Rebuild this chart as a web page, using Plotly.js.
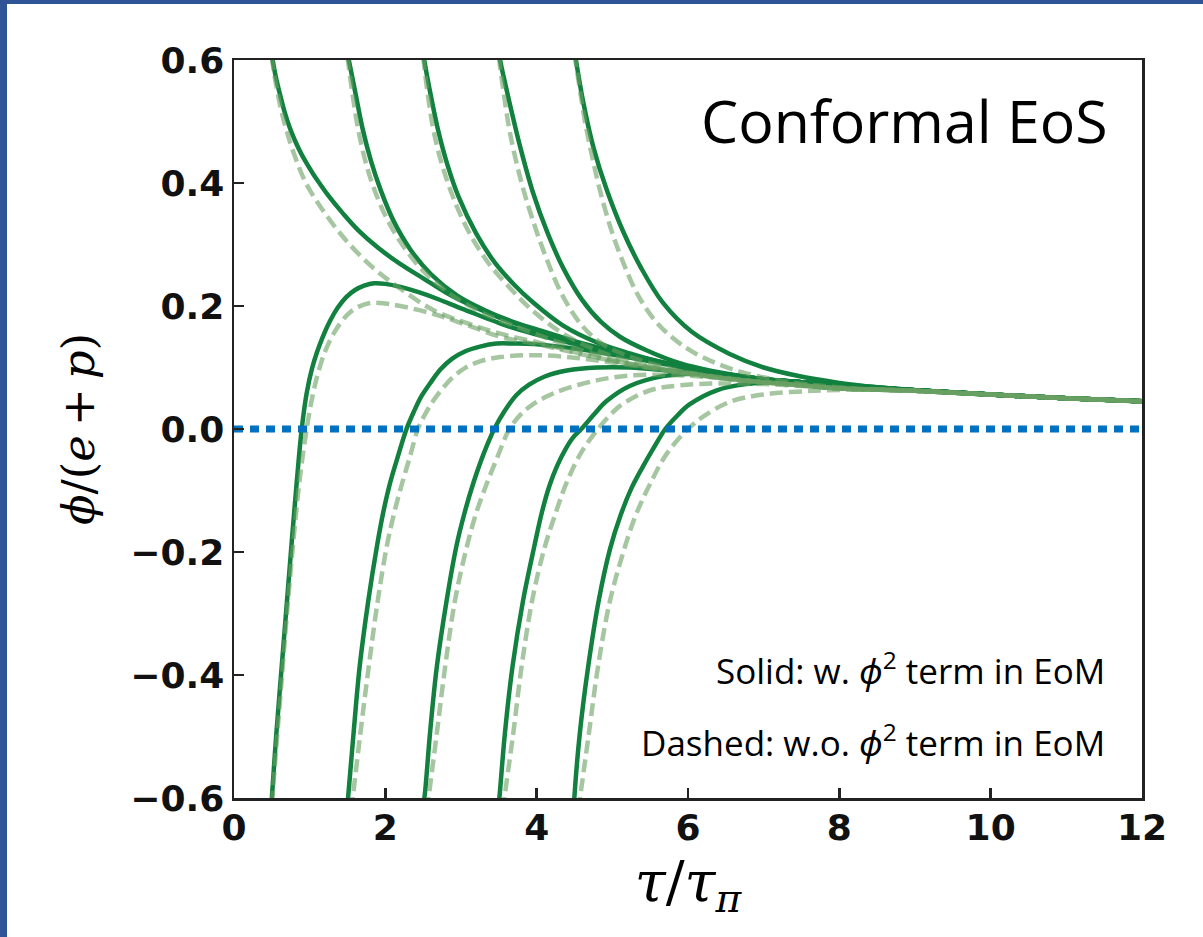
<!DOCTYPE html>
<html>
<head>
<meta charset="utf-8">
<script src="https://cdn.plot.ly/plotly-3.0.1.min.js"></script>
<style>
  html, body { margin: 0; padding: 0; background: #2f5597; width: 1203px; height: 937px; overflow: hidden; }
  #chart { position: absolute; left: 7px; top: 4px; width: 1196px; height: 933px; background: #ffffff; }
</style>
</head>
<body>
<div id="chart"></div>
<script>
// ---------- tick labels ----------
const xTickVals = [0, 2, 4, 6, 8, 10, 12];
const xTickText = ['0', '2', '4', '6', '8', '10', '12'];
const yTickVals = [-0.6, -0.4, -0.2, 0.0, 0.2, 0.4, 0.6];
const yTickText = ['\u22120.6', '\u22120.4', '\u22120.2', '0.0', '0.2', '0.4', '0.6'];

// ---------- common late-time tails ----------
const solidTailTau = [8, 9, 10, 11, 12];
const solidTailPhi = [0.071, 0.063, 0.056, 0.050, 0.045];
const dashTailTau = [9, 10, 11, 12];
const dashTailPhi = [0.062, 0.056, 0.050, 0.045];

// ---------- solid curves (with phi^2 term), positive start ----------
const tauS1 = [0.50, 0.55, 0.61, 0.67, 0.74, 0.82, 0.90, 0.98, 1.06, 1.15, 1.25, 1.45, 1.65, 1.90, 2.20, 2.50, 2.80, 3.10, 3.45, 3.80, 4.15, 4.50, 5.00, 5.50, 6.00, 6.50, 7.00, 7.50];
const phiS1 = [0.608, 0.574, 0.543, 0.515, 0.489, 0.465, 0.445, 0.428, 0.412, 0.396, 0.379, 0.349, 0.322, 0.295, 0.268, 0.245, 0.222, 0.203, 0.184, 0.168, 0.153, 0.140, 0.125, 0.112, 0.099, 0.089, 0.081, 0.076];
const tauS2 = [1.50, 1.55, 1.61, 1.70, 1.81, 1.94, 2.11, 2.33, 2.60, 2.95, 3.30, 3.65, 4.00, 4.50, 5.00, 5.50, 6.00, 6.50, 7.00, 7.50];
const phiS2 = [0.61, 0.58, 0.543, 0.488, 0.436, 0.388, 0.338, 0.292, 0.252, 0.217, 0.194, 0.176, 0.162, 0.143, 0.127, 0.113, 0.100, 0.089, 0.081, 0.076];
const tauS3 = [2.50, 2.55, 2.60, 2.69, 2.82, 2.97, 3.20, 3.45, 3.70, 3.95, 4.35, 4.79, 5.23, 5.67, 6.11, 6.55, 7.00, 7.50];
const phiS3 = [0.61, 0.575, 0.543, 0.49, 0.43, 0.377, 0.318, 0.27, 0.235, 0.206, 0.168, 0.141, 0.123, 0.108, 0.097, 0.088, 0.081, 0.076];
const tauS4 = [3.50, 3.55, 3.65, 3.79, 3.95, 4.14, 4.35, 4.60, 4.85, 5.10, 5.45, 5.89, 6.33, 7.00, 7.50];
const phiS4 = [0.61, 0.58, 0.526, 0.455, 0.385, 0.32, 0.262, 0.21, 0.174, 0.150, 0.128, 0.107, 0.094, 0.081, 0.076];
const tauS5 = [4.50, 4.61, 4.75, 4.92, 5.14, 5.38, 5.67, 6.05, 6.55, 7.00, 7.43, 8.00, 8.50];
const phiS5 = [0.615, 0.535, 0.458, 0.391, 0.322, 0.262, 0.205, 0.158, 0.122, 0.100, 0.087, 0.075, 0.068];

// ---------- solid curves, negative start ----------
const tauL1 = [0.49, 0.50, 0.56, 0.63, 0.70, 0.765, 0.83, 0.895, 0.96, 1.03, 1.10, 1.18, 1.27, 1.37, 1.48, 1.60, 1.72, 1.85, 2.00, 2.20, 2.45, 2.70, 3.00, 3.30, 3.60, 3.95, 4.50, 5.00, 5.50, 6.00, 6.50, 7.00, 7.50];
const phiL1 = [-0.62, -0.60, -0.495, -0.387, -0.28, -0.18, -0.085, 0.0, 0.058, 0.098, 0.126, 0.152, 0.176, 0.197, 0.214, 0.226, 0.233, 0.237, 0.236, 0.231, 0.222, 0.211, 0.196, 0.182, 0.168, 0.155, 0.138, 0.124, 0.112, 0.099, 0.089, 0.081, 0.076];
const tauL2 = [1.49, 1.51, 1.58, 1.66, 1.775, 1.89, 1.97, 2.06, 2.17, 2.28, 2.38, 2.47, 2.59, 2.73, 2.88, 3.05, 3.25, 3.47, 3.70, 3.96, 4.50, 5.00, 5.50, 6.00, 6.50, 7.00, 7.50];
const phiL2 = [-0.62, -0.596, -0.495, -0.387, -0.279, -0.19, -0.137, -0.089, -0.043, 0.0, 0.029, 0.052, 0.074, 0.097, 0.114, 0.126, 0.134, 0.139, 0.139, 0.138, 0.131, 0.121, 0.110, 0.098, 0.088, 0.080, 0.076];
const tauL3 = [2.49, 2.52, 2.59, 2.68, 2.81, 2.94, 3.05, 3.16, 3.30, 3.44, 3.58, 3.73, 3.90, 4.10, 4.40, 4.80, 5.23, 5.67, 6.10, 6.50, 7.00, 7.50];
const phiL3 = [-0.62, -0.596, -0.495, -0.387, -0.279, -0.19, -0.135, -0.089, -0.040, 0.0, 0.03, 0.055, 0.072, 0.085, 0.095, 0.100, 0.100, 0.096, 0.091, 0.086, 0.080, 0.076];
const tauL4 = [3.49, 3.51, 3.58, 3.68, 3.82, 3.97, 4.07, 4.17, 4.27, 4.38, 4.48, 4.59, 4.76, 4.92, 5.23, 5.67, 6.10, 6.50, 7.00, 7.50];
const phiL4 = [-0.62, -0.596, -0.495, -0.387, -0.279, -0.19, -0.135, -0.092, -0.06, -0.033, -0.014, 0.0, 0.024, 0.045, 0.070, 0.086, 0.090, 0.087, 0.081, 0.076];
const tauL5 = [4.49, 4.50, 4.57, 4.68, 4.82, 4.97, 5.11, 5.25, 5.40, 5.55, 5.70, 5.86, 6.02, 6.38, 6.77, 7.21, 7.60, 8.00, 8.50];
const phiL5 = [-0.62, -0.596, -0.495, -0.387, -0.279, -0.195, -0.14, -0.097, -0.062, -0.030, 0.0, 0.022, 0.040, 0.063, 0.073, 0.076, 0.075, 0.072, 0.068];

// ---------- dashed curves (without phi^2 term), positive start ----------
const tauDS1 = [0.50, 0.53, 0.57, 0.63, 0.70, 0.80, 0.95, 1.19, 1.50, 1.85, 2.20, 2.64, 3.08, 3.52, 4.04, 4.50, 5.00, 5.50, 6.00, 6.50, 7.00, 7.50, 8.00, 8.50];
const phiDS1 = [0.605, 0.578, 0.551, 0.515, 0.483, 0.445, 0.400, 0.353, 0.304, 0.261, 0.228, 0.193, 0.172, 0.155, 0.140, 0.125, 0.111, 0.100, 0.090, 0.082, 0.076, 0.071, 0.066, 0.064];
const tauDS2 = [1.50, 1.56, 1.64, 1.74, 1.85, 2.00, 2.20, 2.47, 2.82, 3.26, 3.74, 4.20, 4.60, 5.00, 5.50, 6.00, 6.50, 7.00, 7.50, 8.00, 8.50];
const phiDS2 = [0.605, 0.55, 0.488, 0.434, 0.391, 0.347, 0.304, 0.261, 0.223, 0.190, 0.166, 0.145, 0.128, 0.113, 0.100, 0.090, 0.082, 0.076, 0.071, 0.066, 0.064];
const tauDS3 = [2.50, 2.56, 2.63, 2.73, 2.88, 3.08, 3.35, 3.65, 3.96, 4.35, 4.79, 5.23, 5.67, 6.10, 6.50, 7.00, 7.50, 8.00, 8.50];
const phiDS3 = [0.605, 0.545, 0.49, 0.438, 0.382, 0.326, 0.272, 0.229, 0.191, 0.155, 0.128, 0.110, 0.098, 0.090, 0.083, 0.076, 0.071, 0.066, 0.064];
const tauDS4 = [3.50, 3.56, 3.65, 3.79, 3.94, 4.13, 4.35, 4.60, 4.85, 5.14, 5.67, 6.33, 7.00, 7.50, 8.00, 8.50];
const phiDS4 = [0.605, 0.55, 0.48, 0.405, 0.343, 0.277, 0.215, 0.168, 0.140, 0.122, 0.101, 0.085, 0.076, 0.071, 0.066, 0.064];
const tauDS5 = [4.50, 4.53, 4.57, 4.64, 4.73, 4.83, 4.97, 5.12, 5.32, 5.54, 5.80, 6.11, 6.64, 7.21, 7.70, 8.20, 8.60];
const phiDS5 = [0.61, 0.585, 0.553, 0.499, 0.445, 0.391, 0.33, 0.278, 0.222, 0.180, 0.148, 0.122, 0.095, 0.079, 0.071, 0.066, 0.064];

// ---------- dashed curves, negative start ----------
const tauDL1 = [0.50, 0.57, 0.64, 0.71, 0.79, 0.87, 0.96, 1.04, 1.12, 1.21, 1.33, 1.50, 1.65, 1.81, 2.00, 2.20, 2.64, 3.08, 3.52, 4.04, 4.50, 5.00, 5.50, 6.00, 6.50, 7.00, 7.50, 8.00, 8.50];
const phiDL1 = [-0.61, -0.50, -0.392, -0.285, -0.175, -0.08, 0.0, 0.055, 0.095, 0.128, 0.158, 0.186, 0.199, 0.205, 0.204, 0.200, 0.187, 0.169, 0.150, 0.137, 0.124, 0.111, 0.100, 0.090, 0.082, 0.076, 0.071, 0.066, 0.064];
const tauDL2 = [1.55, 1.67, 1.78, 1.90, 2.02, 2.12, 2.22, 2.33, 2.43, 2.53, 2.64, 2.77, 2.90, 3.05, 3.25, 3.52, 4.00, 4.50, 5.00, 5.50, 6.00, 6.50, 7.00, 7.50, 8.00, 8.50];
const phiDL2 = [-0.62, -0.495, -0.387, -0.279, -0.19, -0.135, -0.089, -0.043, 0.0, 0.025, 0.047, 0.068, 0.085, 0.099, 0.110, 0.117, 0.120, 0.116, 0.108, 0.099, 0.090, 0.082, 0.076, 0.071, 0.066, 0.064];
const tauDL3 = [2.55, 2.68, 2.79, 2.92, 3.08, 3.20, 3.34, 3.49, 3.64, 3.80, 3.95, 4.15, 4.35, 4.79, 5.23, 5.76, 6.30, 7.00, 7.50, 8.00, 8.50];
const phiDL3 = [-0.62, -0.495, -0.387, -0.279, -0.19, -0.137, -0.089, -0.043, 0.0, 0.025, 0.040, 0.054, 0.064, 0.079, 0.087, 0.088, 0.084, 0.076, 0.071, 0.066, 0.064];
const tauDL4 = [3.55, 3.69, 3.80, 3.94, 4.10, 4.25, 4.39, 4.58, 4.81, 4.98, 5.14, 5.50, 5.89, 6.40, 7.00, 7.50, 8.00, 8.50];
const phiDL4 = [-0.62, -0.495, -0.387, -0.279, -0.195, -0.137, -0.089, -0.04, 0.0, 0.024, 0.041, 0.063, 0.071, 0.074, 0.073, 0.070, 0.066, 0.064];
const tauDL5 = [4.55, 4.69, 4.81, 4.97, 5.17, 5.32, 5.50, 5.72, 6.00, 6.20, 6.55, 6.99, 7.65, 8.20, 8.60];
const phiDL5 = [-0.62, -0.495, -0.387, -0.279, -0.19, -0.137, -0.089, -0.04, 0.0, 0.020, 0.044, 0.056, 0.062, 0.064, 0.064];

// ---------- zero reference line ----------
const zeroTau = [0, 12];
const zeroPhi = [0, 0];

function withTail(xs, ys, tx, ty) {
  const last = xs[xs.length - 1];
  const x = xs.slice(), y = ys.slice();
  tx.forEach(function (t, i) { if (t > last + 0.05) { x.push(t); y.push(ty[i]); } });
  return { x: x, y: y };
}

const SOLID = '#12803f';
const DASHED = 'rgba(105,160,98,0.6)';

const solidSets = [[tauS1, phiS1], [tauS2, phiS2], [tauS3, phiS3], [tauS4, phiS4], [tauS5, phiS5],
                   [tauL1, phiL1], [tauL2, phiL2], [tauL3, phiL3], [tauL4, phiL4], [tauL5, phiL5]];
const dashSets = [[tauDS1, phiDS1], [tauDS2, phiDS2], [tauDS3, phiDS3], [tauDS4, phiDS4], [tauDS5, phiDS5],
                  [tauDL1, phiDL1], [tauDL2, phiDL2], [tauDL3, phiDL3], [tauDL4, phiDL4], [tauDL5, phiDL5]];

const traces = [];
solidSets.forEach(function (s, i) {
  const d = withTail(s[0], s[1], solidTailTau, solidTailPhi);
  traces.push({ x: d.x, y: d.y, type: 'scatter', mode: 'lines', name: 'solid ' + (i + 1),
    line: { color: SOLID, width: 4.5, shape: 'spline', smoothing: 1.0 }, showlegend: false, hoverinfo: 'skip' });
});
dashSets.forEach(function (s, i) {
  const d = withTail(s[0], s[1], dashTailTau, dashTailPhi);
  traces.push({ x: d.x, y: d.y, type: 'scatter', mode: 'lines', name: 'dashed ' + (i + 1),
    line: { color: DASHED, width: 4.5, dash: '13px,6px', shape: 'spline', smoothing: 1.0 }, showlegend: false, hoverinfo: 'skip' });
});
traces.push({ x: zeroTau, y: zeroPhi, type: 'scatter', mode: 'lines', name: 'zero',
  line: { color: '#0070c0', width: 7, dash: '9px,7px' }, showlegend: false, hoverinfo: 'skip', cliponaxis: false });

const tickFont = { family: 'DejaVu Sans, sans-serif', size: 36, color: '#111111', weight: 'bold' };
const textFont = { family: 'Open Sans, Noto Sans, sans-serif', color: '#000000' };

const layout = {
  width: 1196, height: 933,
  margin: { l: 227, r: 61, t: 56, b: 139 },
  paper_bgcolor: '#ffffff', plot_bgcolor: '#ffffff',
  showlegend: false,
  xaxis: {
    range: [0, 12], tickmode: 'array', tickvals: xTickVals, ticktext: xTickText,
    ticks: 'inside', ticklen: 10, tickwidth: 2.5, tickcolor: '#222222',
    showline: true, mirror: true, linewidth: 2.5, linecolor: '#222222',
    showgrid: false, zeroline: false, tickfont: tickFont, ticklabelstandoff: -4,
    title: { text: '<i>τ</i>/<i>τ</i><sub><i>π</i></sub>', font: { family: 'DejaVu Serif, serif', size: 56, color: '#000000' }, standoff: 15 }
  },
  yaxis: {
    range: [-0.6, 0.6], tickmode: 'array', tickvals: yTickVals, ticktext: yTickText,
    ticks: 'inside', ticklen: 10, tickwidth: 2.5, tickcolor: '#222222',
    showline: true, mirror: true, linewidth: 2.5, linecolor: '#222222',
    showgrid: false, zeroline: false, tickfont: tickFont, ticklabelstandoff: 0,
    title: { text: '\u2002<i>ϕ</i>/(<i>e</i>\u2009+\u2009<i>p</i>)', font: { family: 'DejaVu Serif, serif', size: 45, color: '#000000' }, standoff: 22 }
  },
  annotations: [
    { text: 'Conformal EoS', xref: 'paper', yref: 'paper', x: 0.965, y: 0.919, xanchor: 'right', yanchor: 'middle',
      showarrow: false, font: Object.assign({ size: 59 }, textFont) },
    { text: 'Solid: w. <i>ϕ</i><sup>2</sup> term in EoM', xref: 'paper', yref: 'paper', x: 0.961, y: 0.175, xanchor: 'right', yanchor: 'middle',
      showarrow: false, font: Object.assign({ size: 35 }, textFont) },
    { text: 'Dashed: w.o. <i>ϕ</i><sup>2</sup> term in EoM', xref: 'paper', yref: 'paper', x: 0.961, y: 0.078, xanchor: 'right', yanchor: 'middle',
      showarrow: false, font: Object.assign({ size: 35 }, textFont) }
  ]
};

Plotly.newPlot('chart', traces, layout, { displayModeBar: false, staticPlot: true });
</script>
</body>
</html>
